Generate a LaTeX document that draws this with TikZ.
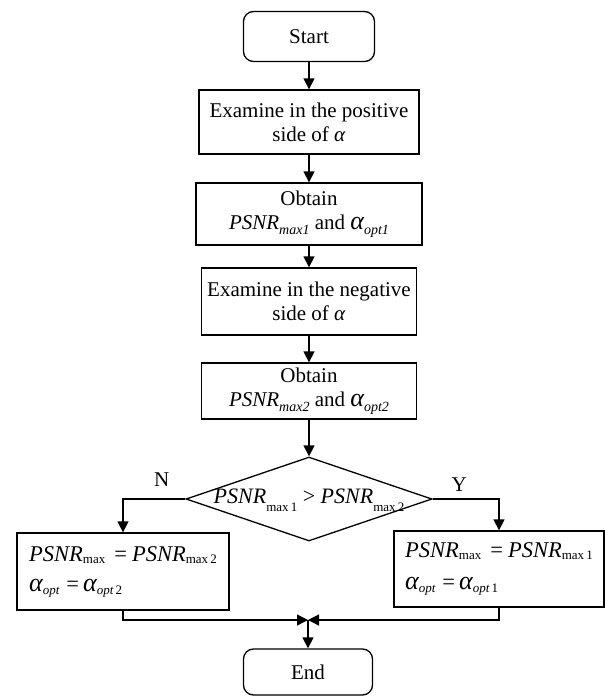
\documentclass[tikz,border=0pt]{standalone}
\usepackage{fontspec}
\setmainfont{Liberation Serif}
\usetikzlibrary{arrows.meta,shapes.geometric}

% symbols used in the labels
\newcommand\ps{\textit{PSNR}}
\newcommand\al{\textit{α}}
% wider alpha used in the formulas
\newcommand\bal{{\fontsize{26}{26}\selectfont\itshape α}}
% italic index, as in "PSNR_max1"
\newcommand\isub[1]{\raisebox{-5pt}{\fontsize{14}{14}\selectfont\itshape #1}}
% small index lowered by #1
\newcommand\msub[2]{\raisebox{-#1}{\fontsize{13}{13}\selectfont #2}}

\begin{document}
\begin{tikzpicture}[x=1pt,y=-1pt,
  line width=1.3pt,
  every node/.style={font=\fontsize{21}{24}\selectfont},
  term/.style={draw,rounded corners=10pt,minimum width=131pt,minimum height=50pt,inner sep=0},
  proc/.style={draw,align=center,inner sep=0},
  dec/.style={draw,diamond,inner sep=0,minimum width=246pt,minimum height=84pt},
  flow/.style={-{Triangle[length=11pt,width=11pt]}},
  yn/.style={inner sep=0}]

\useasboundingbox (0,0) rectangle (605,697);

% main column
\node[term] (start) at (309,36.5) {Start};
\node[proc,minimum width=220pt,minimum height=64pt] (pos) at (309,122)
  {Examine in the positive\\side of \al};
\node[proc,minimum width=226pt,minimum height=62pt] (ob1) at (309,214)
  {Obtain\\\ps\isub{max1} and \bal\isub{opt1}};
\node[proc,minimum width=215pt,minimum height=67pt] (neg) at (309,301.5)
  {Examine in the negative\\side of \al};
\node[proc,minimum width=215pt,minimum height=56pt] (ob2) at (309,391)
  {Obtain\\\ps\isub{max2} and \bal\isub{opt2}};

% decision
\node[dec] (cmp) at (309,499)
  {\smash{\makebox[0pt]{\raisebox{-4pt}{\fontsize{22}{24}\selectfont
   \ps\msub{8pt}{max\,1} > \ps\msub{8pt}{max\,2}}}}};

% the two outcomes
\node[proc,align=left,minimum width=212pt,minimum height=77pt,
      font=\fontsize{22.5}{30}\selectfont] (lbox) at (123,571.5)
  {\ps\msub{2pt}{max}\hspace{9pt}=\hspace{5pt}\ps\msub{2pt}{max\,2}\\
   \bal\msub{3pt}{\itshape opt}\hspace{7pt}=\hspace{4pt}\bal\msub{3pt}{\itshape opt\,\upshape 2}};
\node[proc,align=left,minimum width=210pt,minimum height=76pt,
      font=\fontsize{22.5}{32}\selectfont] (rbox) at (499,569)
  {\ps\msub{2pt}{max}\hspace{9pt}=\hspace{5pt}\ps\msub{2pt}{max\,1}\\
   \bal\msub{3pt}{\itshape opt}\hspace{7pt}=\hspace{4pt}\bal\msub{3pt}{\itshape opt\,\upshape 1}};

\coordinate (join) at (308,620);
\node[term,minimum width=129pt,minimum height=46pt] (end) at (308,672) {End};

% connectors
\draw[flow] (start) -- (pos);
\draw[flow] (pos) -- (ob1);
\draw[flow] (ob1) -- (neg);
\draw[flow] (neg) -- (ob2);
\draw[flow] (ob2) -- (cmp);
\draw[flow] (cmp.west) -| node[yn,pos=0.19,above=12pt]{N} (lbox.north);
\draw[flow] (cmp.east) -| node[yn,pos=0.2,above=7pt]{Y} (rbox.north);
\draw[flow] (lbox.south) |- (join);
\draw[flow] (rbox.south) |- (join);
\draw[flow] (join) -- (end);
\end{tikzpicture}
\end{document}
